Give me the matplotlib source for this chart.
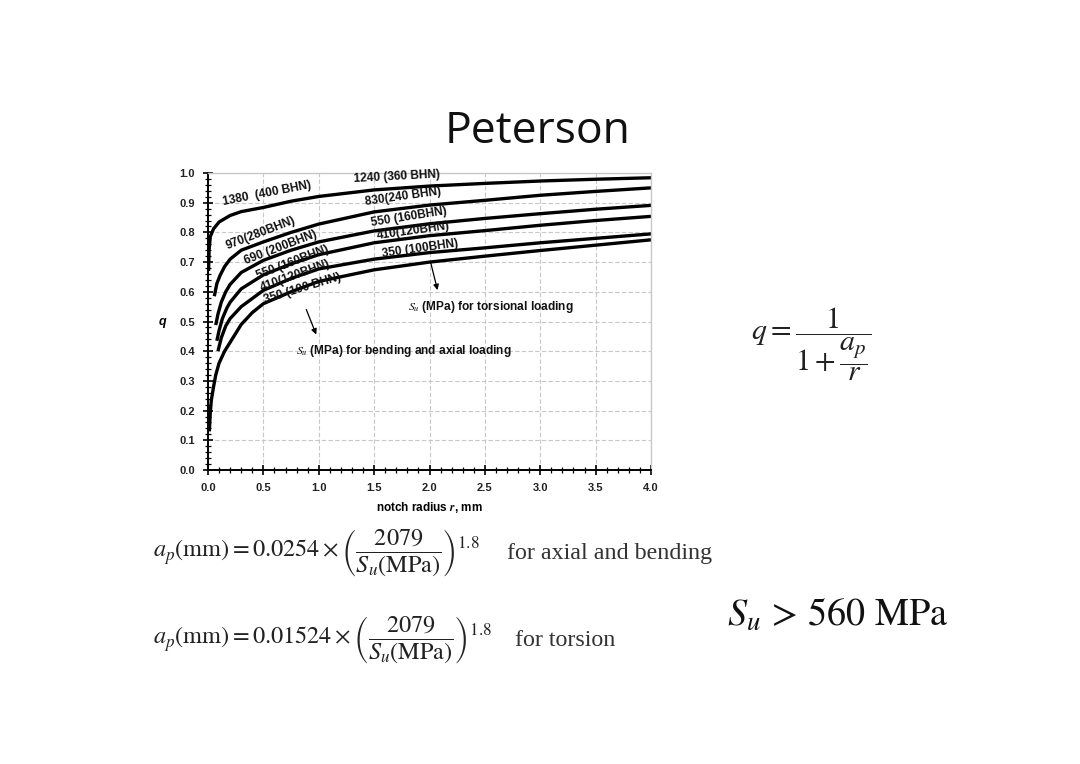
import matplotlib
matplotlib.use("Agg")
import matplotlib.pyplot as plt
from matplotlib.ticker import MultipleLocator, FormatStrFormatter

plt.rcParams['mathtext.fontset'] = 'stix'

# ---- data (notch radius r in mm, notch sensitivity q) ----
r_c1 = [0.005, 0.01, 0.02, 0.05, 0.1, 0.2, 0.3, 0.5, 0.75, 1.0, 1.5, 2.0, 2.5, 3.0, 3.5, 4.0]
q_c1 = [0.67, 0.74, 0.785, 0.812, 0.835, 0.857, 0.87, 0.884, 0.905, 0.921, 0.943, 0.956, 0.965, 0.973, 0.979, 0.984]

r_c2 = [0.057, 0.08, 0.11, 0.15, 0.2, 0.3, 0.5, 0.75, 1.0, 1.5, 2.0, 2.5, 3.0, 3.5, 4.0]
q_c2 = [0.585, 0.628, 0.656, 0.685, 0.71, 0.74, 0.768, 0.80, 0.828, 0.869, 0.892, 0.908, 0.925, 0.938, 0.950]

r_c3 = [0.07, 0.09, 0.12, 0.16, 0.2, 0.3, 0.5, 0.75, 1.0, 1.5, 2.0, 2.5, 3.0, 3.5, 4.0]
q_c3 = [0.488, 0.525, 0.565, 0.60, 0.625, 0.665, 0.706, 0.740, 0.768, 0.805, 0.829, 0.847, 0.863, 0.878, 0.891]

r_c4 = [0.08, 0.1, 0.13, 0.17, 0.2, 0.3, 0.5, 0.75, 1.0, 1.5, 2.0, 2.5, 3.0, 3.5, 4.0]
q_c4 = [0.435, 0.47, 0.51, 0.545, 0.565, 0.61, 0.657, 0.694, 0.725, 0.765, 0.789, 0.806, 0.824, 0.840, 0.854]

r_c5 = [0.09, 0.12, 0.16, 0.2, 0.3, 0.5, 0.75, 1.0, 1.5, 2.0, 2.5, 3.0, 3.5, 4.0]
q_c5 = [0.40, 0.445, 0.485, 0.51, 0.55, 0.605, 0.645, 0.677, 0.710, 0.732, 0.748, 0.765, 0.780, 0.795]

r_c6 = [0.012, 0.02, 0.03, 0.05, 0.07, 0.1, 0.15, 0.2, 0.3, 0.4, 0.5, 0.75, 1.0, 1.5, 2.0, 2.5, 3.0, 3.5, 4.0]
q_c6 = [0.13, 0.19, 0.235, 0.28, 0.32, 0.36, 0.40, 0.43, 0.49, 0.53, 0.56, 0.60, 0.635, 0.674, 0.700, 0.720, 0.739, 0.757, 0.775]

curves_r = [r_c1, r_c2, r_c3, r_c4, r_c5, r_c6]
curves_q = [q_c1, q_c2, q_c3, q_c4, q_c5, q_c6]

bend_labels = ["1380  (400 BHN)", "970(280BHN)", "690 (200BHN)", "550 (160BHN)",
               "410(120BHN)", "350 (100 BHN)"]
tors_labels = ["1240 (360 BHN)", "830(240 BHN)", "550 (160BHN)", "410(120BHN)",
               "350 (100BHN)"]

x_ticks = [0.0, 0.5, 1.0, 1.5, 2.0, 2.5, 3.0, 3.5, 4.0]
y_ticks = [0.0, 0.1, 0.2, 0.3, 0.4, 0.5, 0.6, 0.7, 0.8, 0.9, 1.0]

# ---- figure ----
W, H = 1080, 764
fig = plt.figure(figsize=(W / 100, H / 100), dpi=100)
fig.patch.set_facecolor('white')

def fx(px):
    return px / W

def fy(py):
    return 1 - py / H

L, R, T, B = 208, 651, 173, 470
ax = fig.add_axes([fx(L), fy(B), (R - L) / W, (B - T) / H])
ax.set_xlim(0, 4)
ax.set_ylim(0, 1)

for rr, qq in zip(curves_r, curves_q):
    ax.plot(rr, qq, color='black', lw=2.4, solid_capstyle='butt', solid_joinstyle='round')

ax.set_xticks(x_ticks)
ax.set_yticks(y_ticks)
ax.xaxis.set_minor_locator(MultipleLocator(0.1))
ax.yaxis.set_minor_locator(MultipleLocator(0.02))
ax.xaxis.set_major_formatter(FormatStrFormatter('%.1f'))
ax.yaxis.set_major_formatter(FormatStrFormatter('%.1f'))
ax.grid(True, which='major', color='#c8c8c8', lw=0.8, ls=(0, (4, 2)))
ax.set_axisbelow(True)
ax.tick_params(which='major', direction='inout', length=7, width=1.2, labelsize=8, pad=6)
ax.tick_params(which='minor', direction='inout', length=4, width=0.9)
for lab in ax.get_xticklabels() + ax.get_yticklabels():
    lab.set_fontweight('bold')
    lab.set_family('Liberation Sans')
    lab.set_color('#222222')
for s in ['left', 'bottom']:
    ax.spines[s].set_linewidth(1.4)
for s in ['top', 'right']:
    ax.spines[s].set_color('#c8c8c8')
    ax.spines[s].set_linewidth(1.0)

def d(px, py):
    return ((px - 207.7) / 110.8, (470 - py) / 295.0)

FS = 8.6
lab_font = dict(family='Liberation Sans', fontweight='bold', fontsize=FS, color='#111111',
                ha='center', va='center', rotation_mode='anchor')

bend_pos = [(267, 195, 11), (261, 235, 21), (280, 249, 21), (292, 264, 21), (295, 277, 20), (302, 290, 17)]
for txt, (px, py, rot) in zip(bend_labels, bend_pos):
    x, y = d(px, py)
    ax.text(x, y, txt, rotation=rot, **lab_font)

tors_pos = [(397, 179, 3), (403, 199, 8), (409, 219, 9), (413, 233, 8), (420, 250, 8)]
for txt, (px, py, rot) in zip(tors_labels, tors_pos):
    x, y = d(px, py)
    ax.text(x, y, txt, rotation=rot, **lab_font)

x, y = d(408, 308)
ax.text(x, y, r'$S_u$ (MPa) for torsional loading', family='Liberation Sans', fontweight='bold',
        fontsize=FS, ha='left', va='center', color='#111111')
x, y = d(296, 352)
ax.text(x, y, r'$S_u$ (MPa) for bending and axial loading', family='Liberation Sans', fontweight='bold',
        fontsize=FS, ha='left', va='center', color='#111111')

ax.annotate('', xy=d(438, 294), xytext=d(430, 262),
            arrowprops=dict(arrowstyle='-|>', lw=0.9, color='black', mutation_scale=8))
ax.annotate('', xy=d(317, 338), xytext=d(305, 308),
            arrowprops=dict(arrowstyle='-|>', lw=0.9, color='black', mutation_scale=8))

ax.set_ylabel('q', family='Liberation Sans', fontweight='bold', style='italic', fontsize=9,
              rotation=0, labelpad=12, va='center')
ax.set_xlabel(r'notch radius $\mathbfit{r}$, mm', family='Liberation Sans', fontweight='bold',
              fontsize=8.5, labelpad=5)

# ---- slide texts ----
fig.text(fx(538), fy(132), 'Peterson', family='Open Sans', fontsize=32, ha='center', va='center',
         color='#111111')

fig.text(fx(751), fy(344), r'$q = \dfrac{1}{1+\dfrac{a_p}{r}}$', fontsize=21.5, ha='left', va='center',
         color='#222222')

fig.text(fx(153), fy(553), r'$a_p(\mathrm{mm}) = 0.0254 \times \left(\dfrac{2079}{S_u(\mathrm{MPa})}\right)^{1.8}$',
         fontsize=17.5, ha='left', va='center', color='#222222')
fig.text(fx(507), fy(553), 'for axial and bending', family='Liberation Serif', fontsize=17.3,
         ha='left', va='center', color='#333333')

fig.text(fx(153), fy(640), r'$a_p(\mathrm{mm}) = 0.01524 \times \left(\dfrac{2079}{S_u(\mathrm{MPa})}\right)^{1.8}$',
         fontsize=17.5, ha='left', va='center', color='#222222')
fig.text(fx(515), fy(640), 'for torsion', family='Liberation Serif', fontsize=17.3,
         ha='left', va='center', color='#333333')

fig.text(fx(727), fy(615), r'$S_u\, >\, 560\ \mathrm{MPa}$', fontsize=27.5, ha='left', va='center',
         color='#111111')

fig.savefig('out.png', dpi=100, facecolor='white')
